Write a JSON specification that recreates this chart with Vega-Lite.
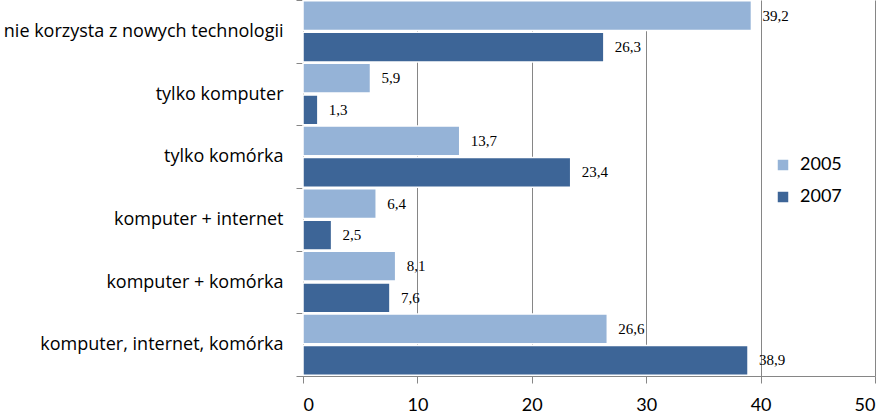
{
  "$schema": "https://vega.github.io/schema/vega-lite/v6.json",
  "autosize": "none",
  "width": 572,
  "height": 376,
  "padding": {"left": 303, "top": 0, "right": 11, "bottom": 39},
  "config": {
    "view": {"stroke": null},
    "locale": {"number": {"decimal": ",", "thousands": " ", "grouping": [3], "currency": ["", " zł"]}}
  },
  "data": {"values": [
    {"kat": "nie korzysta z nowych technologii", "rok": "2005", "v": 39.2},
    {"kat": "nie korzysta z nowych technologii", "rok": "2007", "v": 26.3},
    {"kat": "tylko komputer", "rok": "2005", "v": 5.9},
    {"kat": "tylko komputer", "rok": "2007", "v": 1.3},
    {"kat": "tylko komórka", "rok": "2005", "v": 13.7},
    {"kat": "tylko komórka", "rok": "2007", "v": 23.4},
    {"kat": "komputer + internet", "rok": "2005", "v": 6.4},
    {"kat": "komputer + internet", "rok": "2007", "v": 2.5},
    {"kat": "komputer + komórka", "rok": "2005", "v": 8.1},
    {"kat": "komputer + komórka", "rok": "2007", "v": 7.6},
    {"kat": "komputer, internet, komórka", "rok": "2005", "v": 26.6},
    {"kat": "komputer, internet, komórka", "rok": "2007", "v": 38.9}
  ]},
  "encoding": {
    "y": {
      "field": "kat", "type": "nominal", "sort": null,
      "scale": {"paddingInner": 0, "paddingOuter": 0},
      "axis": {
        "title": null, "tickBand": "extent", "tickSize": 7, "tickColor": "#868686",
        "domainColor": "#868686", "labelFont": "Open Sans", "labelFontSize": 18,
        "labelFontWeight": "normal",
        "labelColor": "#000000", "labelPadding": 13, "labelLimit": 400
      }
    },
    "yOffset": {"field": "rok", "type": "nominal", "scale": {"paddingInner": 0.06, "paddingOuter": 0.02}},
    "x": {
      "field": "v", "type": "quantitative",
      "scale": {"domain": [0, 50], "nice": false},
      "axis": {
        "title": null, "values": [0, 10, 20, 30, 40, 50], "grid": true,
        "gridColor": "#868686", "domainColor": "#868686", "tickColor": "#868686",
        "tickSize": 7, "labelFont": "Lato", "labelFontSize": 18, "labelColor": "#000000",
        "labelPadding": 13, "format": "d"
      }
    }
  },
  "layer": [
    {
      "mark": {"type": "bar", "stroke": "#ffffff", "strokeWidth": 1.5},
      "encoding": {
        "color": {
          "field": "rok", "type": "nominal",
          "scale": {"domain": ["2005", "2007"], "range": ["#95B3D7", "#3D6597"]},
          "legend": {
            "title": null, "orient": "none", "legendX": 471, "legendY": 156,
            "symbolType": "square", "symbolSize": 110, "symbolStrokeWidth": 0,
            "labelFont": "Lato", "labelFontSize": 18, "labelColor": "#000000",
            "rowPadding": 14, "labelOffset": 8
          }
        }
      }
    },
    {
      "mark": {"type": "text", "align": "left", "baseline": "middle", "dx": 11, "font": "Liberation Serif", "fontSize": 15, "color": "#000000"},
      "encoding": {"text": {"field": "v", "type": "quantitative", "format": ".1f"}}
    }
  ]
}
